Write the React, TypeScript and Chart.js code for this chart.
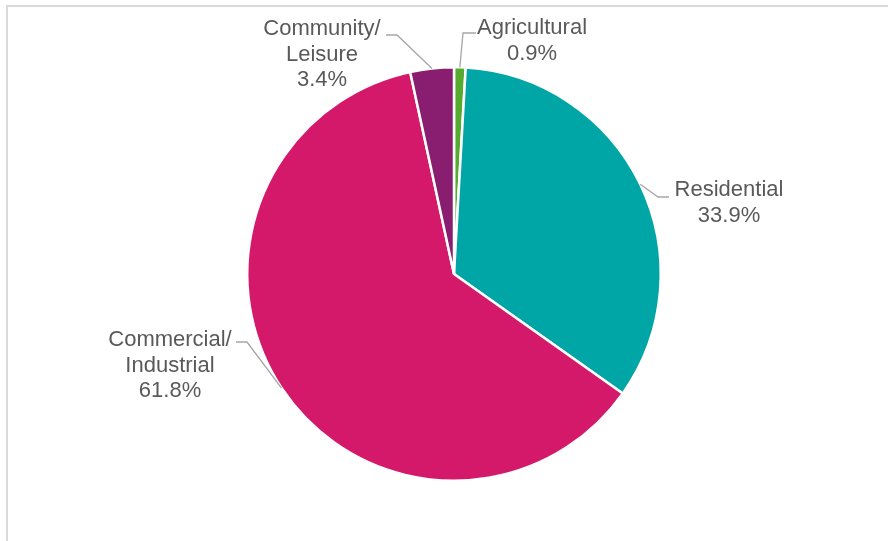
import React, { useEffect, useRef } from "react";
import { Chart, registerables } from "chart.js";

Chart.register(...registerables);

const categories = ["Agricultural", "Residential", "Commercial/\nIndustrial", "Community/\nLeisure"];
const shares = [0.9, 33.9, 61.8, 3.4];
const sliceColors = ["#55AB30", "#00A6A6", "#D5196A", "#891D70"];

// label layout: text centre (first line) and leader elbow/end points
const labelLayout = [
  { tx: 532, ty: 28, ex: 476, ey: 33, kx: 463 },
  { tx: 729, ty: 190, ex: 669, ey: 197, kx: 658 },
  { tx: 170, ty: 340, ex: 236, ey: 342, kx: 247 },
  { tx: 322, ty: 29, ex: 386, ey: 35, kx: 397 },
];

const labelPlugin = {
  id: "labels",
  beforeDraw(chart: any) {
    const ctx = chart.ctx;
    ctx.save();
    ctx.strokeStyle = "#D9D9D9";
    ctx.lineWidth = 2;
    ctx.beginPath();
    ctx.moveTo(7, 541);
    ctx.lineTo(7, 6);
    ctx.lineTo(888, 6);
    ctx.stroke();
    ctx.restore();
  },
  afterDraw(chart: any) {
    const ctx = chart.ctx;
    const meta = chart.getDatasetMeta(0);
    ctx.save();
    meta.data.forEach((arc: any, i: number) => {
      const p = arc.getProps(["x", "y", "startAngle", "endAngle", "outerRadius"], true);
      const mid = (p.startAngle + p.endAngle) / 2;
      const ax = p.x + Math.cos(mid) * p.outerRadius;
      const ay = p.y + Math.sin(mid) * p.outerRadius;
      const L = labelLayout[i];
      ctx.strokeStyle = "#A6A6A6";
      ctx.lineWidth = 1.3;
      ctx.beginPath();
      ctx.moveTo(ax, ay);
      ctx.lineTo(L.kx, L.ey);
      ctx.lineTo(L.ex, L.ey);
      ctx.stroke();
      const lines = categories[i].split("\n").concat([shares[i].toFixed(1) + "%"]);
      ctx.fillStyle = "#595959";
      ctx.font = "22px 'Liberation Sans', Arial, sans-serif";
      ctx.textAlign = "center";
      ctx.textBaseline = "middle";
      lines.forEach((t: string, j: number) => {
        ctx.fillText(t, L.tx, L.ty + j * 25.5);
      });
    });
    ctx.restore();
  },
};

export default function App() {
  const ref = useRef<HTMLCanvasElement>(null);
  useEffect(() => {
    if (!ref.current) return;
    const chart = new Chart(ref.current, {
      type: "pie",
      data: {
        labels: categories,
        datasets: [
          {
            data: shares,
            backgroundColor: sliceColors,
            borderColor: "#FFFFFF",
            borderWidth: 2.5,
            hoverOffset: 0,
            offset: 0,
          },
        ],
      },
      options: {
        responsive: false,
        animation: false,
        devicePixelRatio: 1,
        layout: { padding: { left: 246, right: 226, top: 66, bottom: 59 } },
        plugins: { legend: { display: false }, tooltip: { enabled: false } },
      },
      plugins: [labelPlugin],
    });
    return () => chart.destroy();
  }, []);
  return (
    <div style={{ position: "fixed", left: 0, top: 0, width: 888, height: 541, background: "#fff" }}>
      <canvas ref={ref} width={888} height={541} style={{ width: 888, height: 541, display: "block" }} />
    </div>
  );
}
